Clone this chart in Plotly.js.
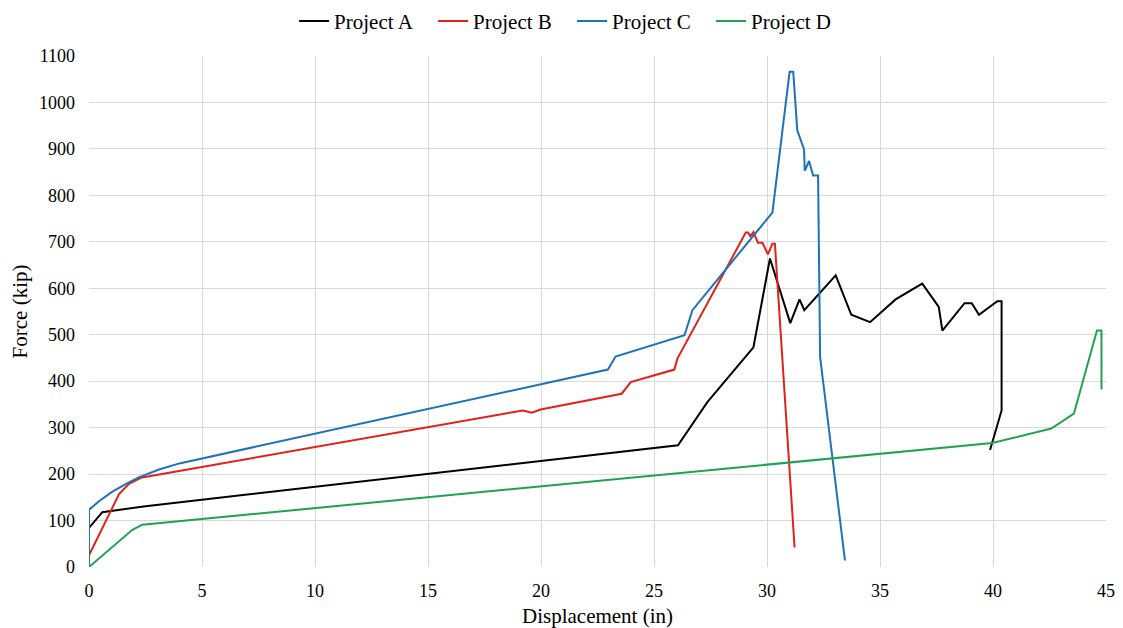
<!DOCTYPE html>
<html>
<head>
<meta charset="utf-8">
<script src="https://cdn.plot.ly/plotly-3.0.1.min.js"></script>
<style>html,body{margin:0;padding:0;background:#fff;}#chart{width:1123px;height:628px;}</style>
</head>
<body>
<div id="chart"></div>
<script>
const seriesNames = ["Project A", "Project B", "Project C", "Project D"];

const dispA = [0, 0, 0.59, 1.77, 2.5, 26.06, 27.36, 29.4, 30.13, 31.03, 31.44, 31.65, 33.04, 33.73, 34.56, 35.69, 36.87, 37.6, 37.76, 38.74, 39.06, 39.38, 40.19, 40.38, 40.38, 39.87];
const forceA = [0, 84, 118, 127, 131, 262, 355, 473, 664, 525, 576, 553, 628, 543, 527, 576, 610, 560, 509, 568, 568, 543, 572, 572, 337, 252];

const dispB = [0, 1.33, 1.77, 2.29, 19.2, 19.6, 19.98, 23.57, 23.97, 25.9, 26.03, 29.06, 29.16, 29.26, 29.4, 29.6, 29.8, 30.04, 30.24, 30.35, 31.22];
const forceB = [25, 157, 179, 192, 337, 332, 339, 373, 398, 425, 448, 720, 720, 712, 721, 698, 698, 673, 696, 696, 42];

const dispC = [0, 0, 0.4, 1.0, 1.6, 2.2, 3.1, 4.0, 22.96, 23.3, 26.35, 26.7, 30.24, 31.0, 31.16, 31.34, 31.64, 31.67, 31.86, 32.04, 32.26, 32.35, 33.45];
const forceC = [0, 123, 140, 161, 178, 193, 210, 223, 425, 453, 499, 553, 763, 1066, 1066, 940, 899, 853, 874, 843, 843, 452, 14];

const dispD = [0, 1.92, 2.36, 39.97, 42.58, 43.58, 44.6, 44.8, 44.8];
const forceD = [0, 80, 91, 267, 298, 330, 509, 509, 382];

const colors = ["#000000", "#E3211C", "#1F72B8", "#1FA352"];

const xs = [dispA, dispB, dispC, dispD];
const ys = [forceA, forceB, forceC, forceD];

const traces = seriesNames.map((n, i) => ({
  x: xs[i], y: ys[i], name: n, type: "scatter", mode: "lines",
  line: {color: colors[i], width: 2}
}));

const font = "Liberation Serif";
const layout = {
  width: 1123, height: 628,
  margin: {l: 89, r: 17, t: 56, b: 61, autoexpand: false},
  paper_bgcolor: "#fff", plot_bgcolor: "#fff",
  font: {family: font, color: "#000", size: 18},
  showlegend: true,
  legend: {orientation: "h", x: 0.475, xanchor: "center", y: 1.068, yanchor: "middle",
           font: {family: font, size: 21, color: "#000"}, itemwidth: 30, tracegroupgap: 0,
           entrywidth: 94, entrywidthmode: "pixels"},
  xaxis: {
    range: [0, 45], dtick: 5, tick0: 0,
    showgrid: true, gridcolor: "#d9d9d9", gridwidth: 1,
    zeroline: false, showline: false, ticks: "",
    ticklabelstandoff: 11,
    tickfont: {family: font, size: 18, color: "#000"},
    title: {text: "Displacement (in)", font: {family: font, size: 21, color: "#000"}, standoff: 10}
  },
  yaxis: {
    range: [0, 1100], dtick: 100, tick0: 0,
    showgrid: true, gridcolor: "#d9d9d9", gridwidth: 1,
    zeroline: false, showline: false, ticks: "",
    ticklabelstandoff: 13,
    tickfont: {family: font, size: 18, color: "#000"},
    title: {text: "Force (kip)", font: {family: font, size: 21, color: "#000"}, standoff: 5}
  }
};

Plotly.newPlot("chart", traces, layout, {displayModeBar: false, staticPlot: true});
</script>
</body>
</html>
